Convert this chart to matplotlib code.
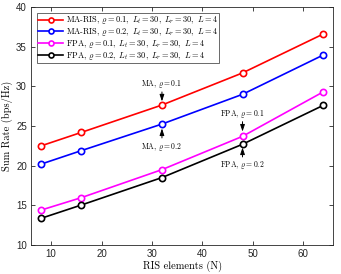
import matplotlib
matplotlib.use("Agg")
import matplotlib.pyplot as plt

plt.rcParams['mathtext.fontset'] = 'cm'
plt.rcParams['axes.unicode_minus'] = False

N = [8, 16, 32, 48, 64]
ma_01 = [22.5, 24.2, 27.65, 31.7, 36.6]
ma_02 = [20.2, 21.9, 25.25, 29.0, 33.95]
fpa_01 = [14.4, 15.97, 19.5, 23.7, 29.3]
fpa_02 = [13.36, 15.04, 18.5, 22.7, 27.6]

labels = [
    r'MA-RIS, $\varrho = 0.1,\ L_t = 30,\ L_r = 30,\ L = 4$',
    r'MA-RIS, $\varrho = 0.2,\ L_t = 30,\ L_r = 30,\ L = 4$',
    r'FPA, $\varrho = 0.1,\ L_t = 30,\ L_r = 30,\ L = 4$',
    r'FPA, $\varrho = 0.2,\ L_t = 30,\ L_r = 30,\ L = 4$',
]
colors = ['#ff0000', '#0000ff', '#ff00ff', '#000000']
series = [ma_01, ma_02, fpa_01, fpa_02]

fig = plt.figure(figsize=(3.41, 2.74), dpi=100)
ax = fig.add_axes([0.091, 0.106, 0.886, 0.868])

for y, c, lab in zip(series, colors, labels):
    ax.plot(N, y, color=c, lw=1.2, marker='o', ms=4.5, mfc='white',
            mec=c, mew=1.2, label=lab)

ax.set_xlim(6, 66)
ax.set_ylim(10, 40)
ax.set_xticks([10, 20, 30, 40, 50, 60])
ax.set_yticks([10, 15, 20, 25, 30, 35, 40])
ax.tick_params(direction='in', top=True, right=True, labelsize=7,
               length=3, width=0.6, colors='#262626', pad=3)
for lab in ax.get_xticklabels() + ax.get_yticklabels():
    lab.set_family('Liberation Sans')
for s in ax.spines.values():
    s.set_linewidth(0.6)
    s.set_color('#262626')

ax.set_xlabel('RIS elements (N)', family='cmr10', fontsize=7.5, labelpad=1)
ax.set_ylabel('Sum Rate (bps/Hz)', family='cmr10', fontsize=7.5, labelpad=2)

leg = ax.legend(loc='upper left', prop={'family': 'cmr10', 'size': 6.0},
                frameon=True, fancybox=False, edgecolor='#262626',
                borderpad=0.15, labelspacing=-0.02, handlelength=3.0,
                handletextpad=0.35, borderaxespad=0.7, handleheight=0.5,
                markerscale=0.8)
leg.get_frame().set_linewidth(0.6)

ap = dict(arrowstyle='-|>,head_length=0.45,head_width=0.15', color='black',
          lw=0.7, mutation_scale=9, shrinkA=0, shrinkB=0)
fs = 5.5
tf = dict(fontsize=fs, family='cmr10', ha='center')
ax.annotate('', xy=(32, 28.1), xytext=(32, 29.3), arrowprops=ap)
ax.text(32, 29.5, r'MA, $\varrho = 0.1$', va='bottom', **tf)
ax.annotate('', xy=(32, 24.7), xytext=(32, 23.5), arrowprops=ap)
ax.text(32, 23.1, r'MA, $\varrho = 0.2$', va='top', **tf)
ax.annotate('', xy=(48, 24.3), xytext=(48, 25.55), arrowprops=ap)
ax.text(48, 25.75, r'FPA, $\varrho = 0.1$', va='bottom', **tf)
ax.annotate('', xy=(48, 22.3), xytext=(48, 21.1), arrowprops=ap)
ax.text(48, 20.8, r'FPA, $\varrho = 0.2$', va='top', **tf)

fig.savefig('out.png', dpi=100)
